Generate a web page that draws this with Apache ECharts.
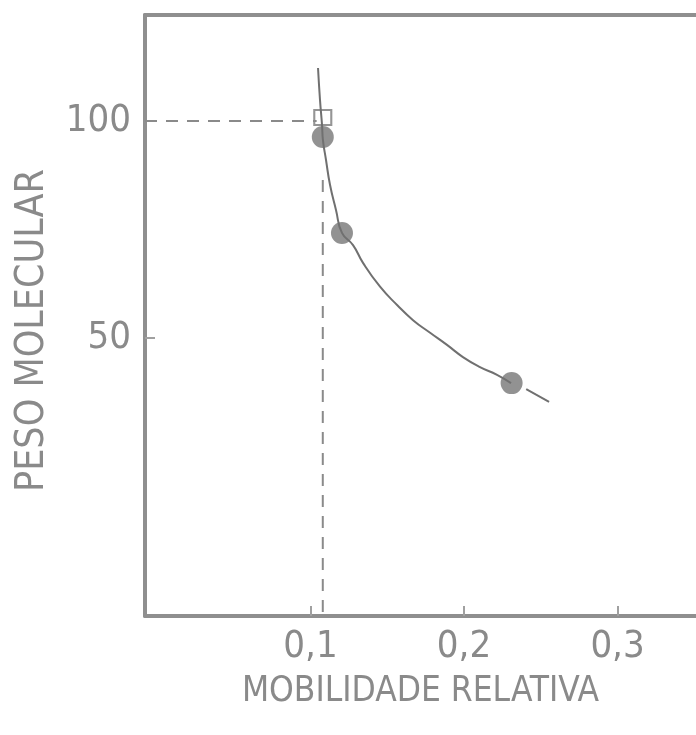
<!DOCTYPE html>
<html>
<head>
<meta charset="utf-8">
<script src="https://cdn.jsdelivr.net/npm/echarts@6/dist/echarts.min.js"></script>
<style>
  html, body { margin: 0; padding: 0; background: #fff; }
  #chart { width: 696px; height: 735px; }
</style>
</head>
<body>
<div id="chart"></div>
<script>
// measured points (mobility, molecular weight)
const pointX = [0.108, 0.1205, 0.231];
const pointY = [96.3, 74.2, 39.6];

// hand drawn fit curve, null = small gap after last point
const curveX = [0.1049, 0.1062, 0.1075, 0.1081, 0.1101, 0.1127, 0.1166, 0.1205, 0.1277, 0.1342, 0.1453, 0.1564, 0.1668, 0.1779, 0.1889, 0.1993, 0.2104, 0.2215, 0.2306, 0.2345, 0.2405, 0.2554];
const curveY = [112.2, 104.8, 99.1, 95.6, 91.0, 85.3, 79.5, 74.2, 71.4, 67.3, 61.8, 57.6, 54.1, 51.2, 48.4, 45.6, 43.3, 41.5, 39.6, null, 38.2, 35.3];

const readX = 0.108;
const readY = 100;

const xTicks = [0.1, 0.2, 0.3];
const xTickLabels = ["0,1", "0,2", "0,3"];
const yTicks = [50, 100];
const yTickLabels = ["50", "100"];

const xMin = -0.0078, xMax = 0.3511;
const yMin = -14.05, yMax = 124.4;

const gray = "#8a8a8a";
const font = "'DejaVu Sans Condensed', 'DejaVu Sans', sans-serif";

const chart = echarts.init(document.getElementById("chart"));

const curve = curveX.map((x, i) => [x, curveY[i]]);

const option = {
  animation: false,
  grid: { left: 145, top: 15, right: 0, bottom: 119, outerBoundsMode: "none", containLabel: false },
  xAxis: [
    {
      type: "value",
      min: xMin,
      max: xMax,
      name: "MOBILIDADE RELATIVA",
      nameLocation: "middle",
      nameGap: 58,
      nameTextStyle: { color: gray, fontFamily: font, fontSize: 35 },
      axisLine: { show: true, onZero: false, lineStyle: { color: "#8f8f8f", width: 4 } },
      axisTick: { show: true, inside: true, length: 10, customValues: xTicks, lineStyle: { color: "#a0a0a0", width: 2 } },
      axisLabel: {
        customValues: xTicks,
        formatter: (v) => xTickLabels[xTicks.indexOf(v)] || "",
        color: gray, fontFamily: font, fontSize: 38, margin: 12
      },
      splitLine: { show: false }
    },
    {
      type: "value",
      position: "top",
      min: xMin,
      max: xMax,
      axisLine: { show: true, onZero: false, lineStyle: { color: "#8f8f8f", width: 4 } },
      axisTick: { show: false },
      axisLabel: { show: false },
      splitLine: { show: false }
    }
  ],
  yAxis: {
    type: "value",
    min: yMin,
    max: yMax,
    name: "PESO MOLECULAR",
    nameLocation: "middle",
    nameGap: 93,
    nameRotate: 90,
    nameTextStyle: { color: gray, fontFamily: font, fontSize: 39, padding: [0, 30, 0, 0] },
    axisLine: { show: true, onZero: false, lineStyle: { color: "#8f8f8f", width: 4 } },
    axisTick: { show: true, inside: true, length: 10, customValues: yTicks, lineStyle: { color: "#a0a0a0", width: 2 } },
    axisLabel: {
      customValues: yTicks,
      formatter: (v) => yTickLabels[yTicks.indexOf(v)] || "",
      color: gray, fontFamily: font, fontSize: 38, margin: 14
    },
    splitLine: { show: false }
  },
  series: [
    {
      type: "line",
      data: [[xMin, readY], [readX - 0.004, readY]],
      symbol: "none",
      lineStyle: { color: gray, width: 2, type: [12, 9] }
    },
    {
      type: "line",
      data: [[readX, 86.4], [readX, yMin]],
      symbol: "none",
      lineStyle: { color: gray, width: 2, type: [12, 9] }
    },
    {
      type: "line",
      data: curve,
      smooth: 0.5,
      connectNulls: false,
      symbol: "none",
      lineStyle: { color: "#707070", width: 2 }
    },
    {
      type: "scatter",
      data: [[readX, readY + 0.8]],
      symbol: "rect",
      symbolSize: [17, 15],
      itemStyle: { color: "rgba(0,0,0,0)", borderColor: "#7a7a7a", borderWidth: 2 }
    },
    {
      type: "scatter",
      data: pointX.map((x, i) => [x, pointY[i]]),
      symbolSize: 22,
      itemStyle: { color: "#929292", opacity: 1 }
    }
  ]
};

chart.setOption(option);
</script>
</body>
</html>
